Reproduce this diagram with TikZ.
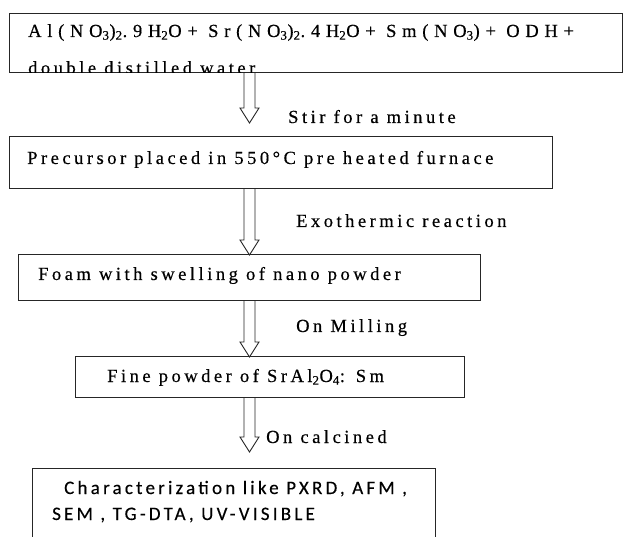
\documentclass[tikz,border=0pt]{standalone}
\usepackage{fontspec}
\setmainfont{Liberation Serif}
\newfontfamily\spserif[LetterSpace=19,FakeBold=0.4]{Liberation Serif}
\newfontfamily\spserifwide[LetterSpace=31,FakeBold=0.4]{Liberation Serif}
\newfontfamily\spsans[LetterSpace=17,FakeBold=0.3]{Carlito}
\usetikzlibrary{calc}
\tikzset{
  box/.style={draw=black!85, line width=1pt, inner sep=0pt, outer sep=0pt, anchor=north west},
  txt/.style={anchor=base west, inner sep=0pt, font=\spserif\fontsize{18.5}{22}\selectfont},
  widetxt/.style={anchor=base west, inner sep=0pt, font=\spserifwide\fontsize{18.5}{22}\selectfont},
  sanstxt/.style={anchor=base west, inner sep=0pt, font=\spsans\fontsize{19}{23}\selectfont},
  arrowline/.style={draw=black!85, line width=0.9pt, line join=miter}
}
\newcommand\hollowarrow[2]{%
  \draw[arrowline] let \p1=(#1), \p2=(#2) in
    (\x2-5.5pt,\y1) -- (\x2-5.5pt,\y2+15pt) -- (\x2-9.5pt,\y2+15pt) -- (\x2,\y2)
    -- (\x2+9.5pt,\y2+15pt) -- (\x2+5.5pt,\y2+15pt) -- (\x2+5.5pt,\y1);}
\begin{document}
\begin{tikzpicture}[x=1pt,y=-1pt]
\clip (0,0) rectangle (624,537);
\fill[white] (0,0) rectangle (624,537);
% boxes
\node[box, minimum width=613pt, minimum height=59pt] (b1) at (9,14) {};
\node[box, minimum width=543pt, minimum height=52pt] (b2) at (9,137) {};
\node[box, minimum width=462pt, minimum height=46pt] (b3) at (18,255) {};
\node[box, minimum width=389pt, minimum height=40pt] (b4) at (75,357) {};
\node[box, minimum width=403pt, minimum height=100pt] (b5) at (32,468) {};
% texts
\begin{scope}
\clip (9.5,14.5) rectangle (621.5,72.3);
\node[widetxt] (t1a) at (28,37) {Al(NO\textsubscript{3})\textsubscript{2}.9H\textsubscript{2}O+ Sr(NO\textsubscript{3})\textsubscript{2}.4H\textsubscript{2}O+ Sm(NO\textsubscript{3})+ ODH+};
\node[txt] (t1b) at (28,74) {double distilled water};
\end{scope}
\node[txt] (t2) at (27,164) {Precursor placed in 550°C pre heated furnace};
\node[txt] (t3) at (38,280) {Foam with swelling of nano powder};
\node[txt] (t4) at (107,382) {Fine powder of SrAl\textsubscript{2}O\textsubscript{4}: Sm};
\node[sanstxt] (t5a) at (64,494) {Characterization like PXRD, AFM ,};
\node[sanstxt] (t5b) at (52,520) {SEM , TG-DTA, UV-VISIBLE};
% step labels
\node[txt] (s1) at (288,123) {Stir for a minute};
\node[txt] (s2) at (296,227) {Exothermic reaction};
\node[txt] (s3) at (296,332) {On Milling};
\node[txt] (s4) at (266,443) {On calcined};
% arrows
\coordinate (ax) at (249.5,0);
\coordinate (tip1) at (249.5,123);
\coordinate (tip4) at (249.5,452);
\hollowarrow{b1.south -| ax}{tip1}
\hollowarrow{b2.south -| ax}{b3.north -| ax}
\hollowarrow{b3.south -| ax}{b4.north -| ax}
\hollowarrow{b4.south -| ax}{tip4}
\end{tikzpicture}
\end{document}
